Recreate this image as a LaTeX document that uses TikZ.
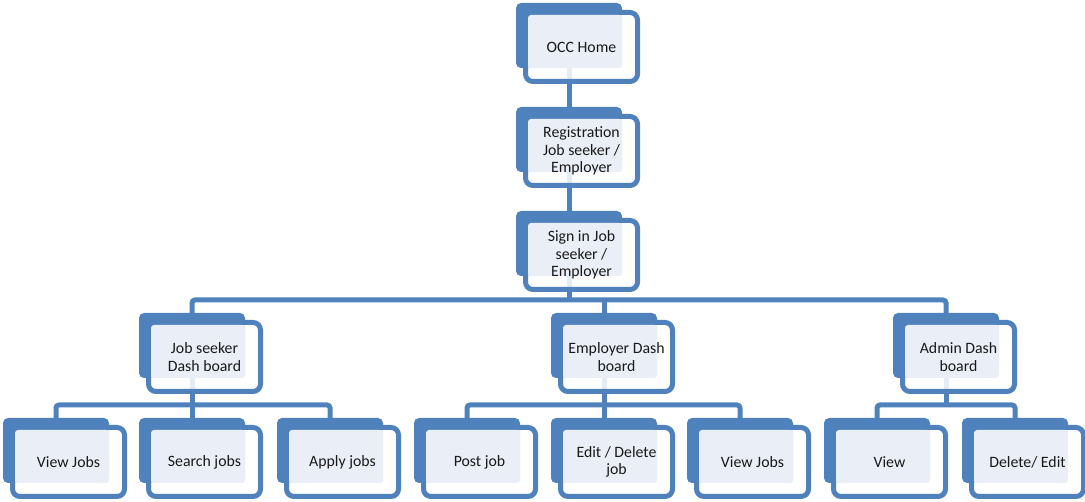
\documentclass[tikz,border=0pt]{standalone}
\usepackage{fontspec}
\setmainfont{Carlito}
\usetikzlibrary{backgrounds}
\definecolor{sablue}{HTML}{4F81BD}
\definecolor{salight}{HTML}{EAEFF7}
\tikzset{
 backbox/.style={fill=sablue, rounded corners=5pt, minimum width=106pt, minimum height=65pt, inner sep=0pt, outer sep=0pt},
 frontbox/.style={draw=sablue, line width=5pt, fill=white, fill opacity=0.85, rounded corners=7.5pt},
 lightbox/.style={fill=salight, rounded corners=3pt},
 lbl/.style={align=center, font=\fontsize{15.8}{17.5}\selectfont, text=black!90, inner sep=0pt},
 conn/.style={draw=sablue, line width=5pt},
}
\newcommand\orgunit[4]{%
  \node[backbox] (#1) at ({#2+53},{-#3-32.5}) {};
  \path[frontbox] ({#2+9.5},{-#3-9.5}) rectangle ({#2+121.5},{-#3-78.5});
  \path[lightbox] ({#2+12},{-#3-12}) rectangle ({#2+106},{-#3-65});
  \node[lbl] (#1-t) at ({#2+65.5},{-#3-44}) {#4};
}
\begin{document}
\begin{tikzpicture}[x=1pt,y=1pt]
\useasboundingbox (0,0) rectangle (1085,-502);
\orgunit{occ}{516}{3}{OCC Home}
\orgunit{reg}{516}{107}{Registration\\Job seeker /\\Employer}
\orgunit{sign}{516}{211}{Sign in Job\\seeker /\\Employer}
\orgunit{js}{139}{313}{Job seeker\\Dash board}
\orgunit{emp}{551}{313}{Employer Dash\\board}
\orgunit{adm}{893}{313}{Admin Dash\\board}
\orgunit{vj}{3}{418}{View Jobs}
\orgunit{sj}{139}{418}{Search jobs}
\orgunit{aj}{277}{418}{Apply jobs}
\orgunit{pj}{414}{418}{Post job}
\orgunit{ed}{551}{418}{Edit / Delete\\job}
\orgunit{vj2}{687}{418}{View Jobs}
\orgunit{vw}{824}{418}{View}
\orgunit{de}{962}{418}{Delete/ Edit}
\begin{pgfonlayer}{background}
\draw[conn] (occ.south) -- (reg.north);
\draw[conn] (reg.south) -- (sign.north);
\draw[conn] (sign.south) -- ++(0,-24);
\draw[conn, rounded corners=3pt] (js.north) -- ++(0,13) -| (adm.north);
\draw[conn] (emp.north) -- ++(0,13);
\draw[conn, rounded corners=3pt] (vj.north) -- ++(0,13) -| (aj.north);
\draw[conn] (js.south) -- (sj.north);
\draw[conn, rounded corners=3pt] (pj.north) -- ++(0,13) -| (vj2.north);
\draw[conn] (emp.south) -- (ed.north);
\draw[conn, rounded corners=3pt] (vw.north) -- ++(0,13) -| (de.north);
\draw[conn] (adm.south) -- ++(0,-27);
\end{pgfonlayer}
\end{tikzpicture}
\end{document}
